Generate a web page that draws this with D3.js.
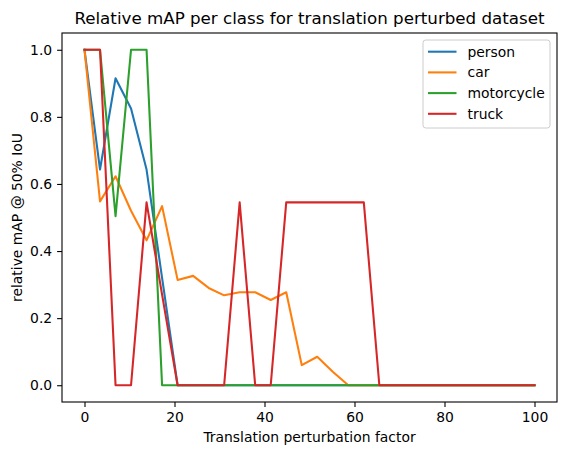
<!DOCTYPE html>
<html>
<head>
<meta charset="utf-8">
<script src="https://cdn.jsdelivr.net/npm/d3@7"></script>
<style>
  body { margin: 0; background: #fff; }
  svg { display: block; font-family: "DejaVu Sans", sans-serif; }
</style>
</head>
<body>
<div id="chart"></div>
<script>
const factors = [0, 3.45, 6.9, 10.34, 13.79, 17.24, 20.69, 24.14, 27.59, 31.03,
  34.48, 37.93, 41.38, 44.83, 48.28, 51.72, 55.17, 58.62, 62.07, 65.52,
  68.97, 72.41, 75.86, 79.31, 82.76, 86.21, 89.66, 93.1, 96.55, 100];

const person = [1.0, 0.643, 0.915, 0.825, 0.643, 0.32, 0, 0, 0, 0,
  0, 0, 0, 0, 0, 0, 0, 0, 0, 0,
  0, 0, 0, 0, 0, 0, 0, 0, 0, 0];
const car = [1.0, 0.548, 0.623, 0.52, 0.432, 0.534, 0.314, 0.326, 0.29, 0.268,
  0.277, 0.277, 0.254, 0.277, 0.06, 0.085, 0.04, 0, 0, 0,
  0, 0, 0, 0, 0, 0, 0, 0, 0, 0];
const motorcycle = [1.0, 1.0, 0.504, 1.0, 1.0, 0, 0, 0, 0, 0,
  0, 0, 0, 0, 0, 0, 0, 0, 0, 0,
  0, 0, 0, 0, 0, 0, 0, 0, 0, 0];
const truck = [1.0, 1.0, 0, 0, 0.545, 0.27, 0, 0, 0, 0,
  0.545, 0, 0, 0.545, 0.545, 0.545, 0.545, 0.545, 0.545, 0,
  0, 0, 0, 0, 0, 0, 0, 0, 0, 0];

const seriesNames = ["person", "car", "motorcycle", "truck"];
const seriesValues = [person, car, motorcycle, truck];
const seriesColors = ["#1f77b4", "#ff7f0e", "#2ca02c", "#d62728"];

const xTicks = [0, 20, 40, 60, 80, 100];
const yTicks = [0, 0.2, 0.4, 0.6, 0.8, 1.0];

const W = 567, H = 455;
const margin = { top: 33, right: 10, bottom: 53, left: 62 };
const width = W - margin.left - margin.right;
const height = H - margin.top - margin.bottom;
const fs = 13.9;

const svg = d3.select("#chart").append("svg")
  .attr("width", W)
  .attr("height", H);

const g = svg.append("g")
  .attr("transform", `translate(${margin.left},${margin.top})`);

const x = d3.scaleLinear().domain([-5, 105]).range([0, width]);
const y = d3.scaleLinear().domain([-0.05, 1.05]).range([height, 0]);

const line = d3.line()
  .x((d, i) => x(factors[i]))
  .y(d => y(d));

seriesValues.forEach((vals, k) => {
  g.append("path")
    .datum(vals)
    .attr("d", line)
    .attr("fill", "none")
    .attr("stroke", seriesColors[k])
    .attr("stroke-width", 2.08)
    .attr("stroke-linejoin", "round")
    .attr("stroke-linecap", "square");
});

// axes
const xAxis = g.append("g")
  .attr("transform", `translate(0,${height})`)
  .call(d3.axisBottom(x).tickValues(xTicks).tickFormat(d3.format("d"))
    .tickSize(4.9).tickPadding(4.9));
const yAxis = g.append("g")
  .call(d3.axisLeft(y).tickValues(yTicks).tickFormat(d3.format(".1f"))
    .tickSize(4.9).tickPadding(4.9));

[xAxis, yAxis].forEach(a => {
  a.select(".domain").remove();
  a.selectAll("line").attr("stroke", "#000").attr("stroke-width", 1.1);
  a.selectAll("text").attr("fill", "#000")
    .style("font-family", "DejaVu Sans, sans-serif")
    .style("font-size", fs + "px");
});

// frame
g.append("rect")
  .attr("width", width)
  .attr("height", height)
  .attr("fill", "none")
  .attr("stroke", "#000")
  .attr("stroke-width", 1.1);

// title and labels
svg.append("text")
  .attr("x", margin.left + width / 2)
  .attr("y", 23.5)
  .attr("text-anchor", "middle")
  .style("font-size", "16.7px")
  .text("Relative mAP per class for translation perturbed dataset");

svg.append("text")
  .attr("x", margin.left + width / 2)
  .attr("y", 442)
  .attr("text-anchor", "middle")
  .style("font-size", fs + "px")
  .text("Translation perturbation factor");

svg.append("text")
  .attr("transform", `translate(22,${margin.top + height / 2}) rotate(-90)`)
  .attr("text-anchor", "middle")
  .style("font-size", fs + "px")
  .text("relative mAP @ 50% IoU");

// legend
const legend = g.append("g")
  .attr("transform", `translate(${width - 134},${7})`);

legend.append("rect")
  .attr("width", 127)
  .attr("height", 88)
  .attr("rx", 2.8)
  .attr("fill", "#fff")
  .attr("fill-opacity", 0.8)
  .attr("stroke", "#cccccc")
  .attr("stroke-width", 1);

seriesNames.forEach((name, i) => {
  const cy = 11.7 + i * 20.7;
  legend.append("line")
    .attr("x1", 5).attr("x2", 33.5)
    .attr("y1", cy).attr("y2", cy)
    .attr("stroke", seriesColors[i])
    .attr("stroke-width", 2.08);
  legend.append("text")
    .attr("x", 44.5)
    .attr("y", cy + 5)
    .style("font-size", fs + "px")
    .text(name);
});
</script>
</body>
</html>
